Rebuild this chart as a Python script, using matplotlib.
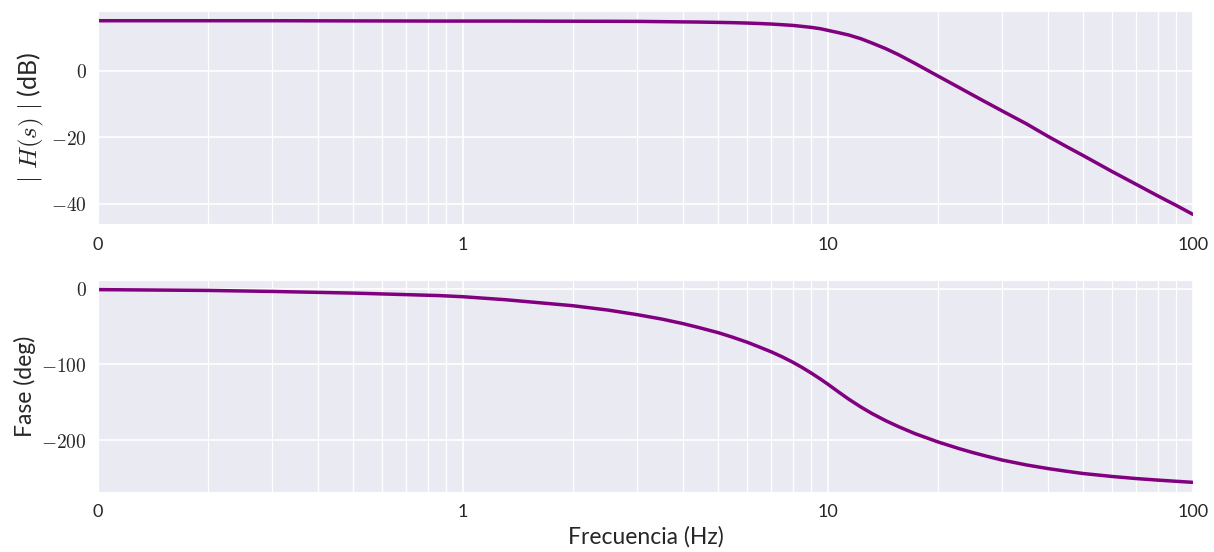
import matplotlib
matplotlib.use('Agg')
import matplotlib.pyplot as plt
import seaborn as sns
from matplotlib.ticker import FixedLocator, FuncFormatter, NullFormatter, LogLocator

# frequency (Hz) and values
freq = [0.1, 0.2, 0.3, 0.5, 0.86, 1, 1.31, 2, 2.5, 3, 3.5, 4, 4.43, 5, 5.46,
        6, 6.46, 7, 7.49, 8, 8.49, 9, 9.53, 10, 10.7, 11.4, 12.3, 13.2, 14.4,
        15.6, 17.3, 20, 22.8, 24.8, 27, 30, 35, 40, 45, 50, 60, 70, 80, 90, 100]
mag_db = [15.0, 15.0, 15.0, 14.95, 14.9, 14.9, 14.9, 14.85, 14.83, 14.8, 14.72,
          14.65, 14.6, 14.5, 14.42, 14.3, 14.17, 14.0, 13.8, 13.6, 13.3, 13.0,
          12.6, 12.1, 11.4, 10.7, 9.6, 8.3, 6.6, 4.8, 2.2, -1.6, -5.0, -7.2,
          -9.4, -12.1, -16.0, -19.7, -22.8, -25.5, -30.3, -34.2, -37.6, -40.5,
          -43.2]
phase_deg = [-1.1, -2.2, -3.5, -5.7, -9.0, -10.5, -14.5, -22.4, -28.2, -34.2,
             -40.0, -46.0, -51.3, -58.0, -63.8, -70.6, -76.7, -83.5, -90.0,
             -97.0, -104.0, -111.5, -119.3, -126.3, -136.6, -146.0, -156.3,
             -165.0, -174.5, -182.3, -191.5, -202.5, -211.2, -216.3, -221.0,
             -226.5, -233.0, -237.7, -241.3, -244.3, -248.2, -251.0, -253.0,
             -254.6, -256.0]

xticks = [0.1, 1, 10, 100]
xtick_labels = ['0', '1', '10', '100']

sns.set_style('darkgrid')
plt.rcParams['font.family'] = ['Lato', 'DejaVu Sans']
plt.rcParams['mathtext.fontset'] = 'cm'

fig = plt.figure(figsize=(12.14, 5.52), dpi=100)
ax1 = fig.add_axes([0.0807, 0.594, 0.902, 0.386])
ax2 = fig.add_axes([0.0807, 0.1087, 0.902, 0.3841])

for ax, values in [(ax1, mag_db), (ax2, phase_deg)]:
    ax.plot(freq, values, color='purple', linewidth=2.5)
    ax.set_xscale('log')
    ax.set_xlim(0.1, 100)
    ax.xaxis.set_major_locator(FixedLocator(xticks))
    ax.set_xticklabels(xtick_labels)
    ax.xaxis.set_minor_locator(LogLocator(base=10, subs=range(2, 10)))
    ax.xaxis.set_minor_formatter(NullFormatter())
    ax.grid(which='major', color='white', linewidth=1.2)
    ax.grid(which='minor', axis='x', color='white', linewidth=0.9)
    ax.yaxis.set_major_formatter(FuncFormatter(lambda v, p: '$%d$' % v))
    ax.tick_params(axis='x', labelsize=13, pad=9, colors='#262626')
    ax.tick_params(axis='y', labelsize=14, pad=8, colors='#262626')
    ax.tick_params(which='both', length=0)

ax1.set_yticks([0, -20, -40])
ax2.set_yticks([0, -100, -200])

ax1.set_ylabel(r'$|\ H(s)\ |$ (dB)', fontsize=18, color='#262626')
ax2.set_ylabel('Fase (deg)', fontsize=16.5, color='#262626')
ax2.set_xlabel('Frecuencia (Hz)', fontsize=16.5, color='#262626')

plt.savefig('out.png', dpi=100)
plt.close()
